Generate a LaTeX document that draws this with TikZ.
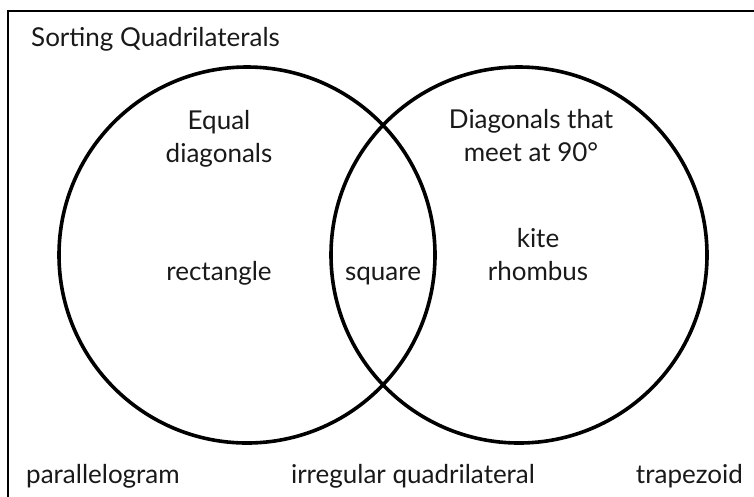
\documentclass[tikz,border=0pt]{standalone}
\usepackage{fontspec}
\setmainfont{Lato}
\usetikzlibrary{positioning}

\begin{document}
\begin{tikzpicture}[
    x=1pt, y=-1pt,
    frame/.style={draw=black, line width=1.6pt},
    setring/.style={
      draw=black, line width=3.6pt, circle,
      minimum size=376pt, inner sep=0pt,
    },
    word/.style={
      font=\fontsize{26}{33}\selectfont, align=center,
      inner sep=0pt, text=black!90,
    },
]
\useasboundingbox (0,0) rectangle (754,496);
\draw[frame] (8,11) rectangle (780,530);

% the two sets
\node[setring] (Leq) at (247,255) {};
\node[setring] (Rperp) at (519,255) {};

\node[word, anchor=base west] (title) at (31,46) {Sorting Quadrilaterals};

% base of a two-line node is the last line
\node[word, anchor=base] (Lhead) at (219,162) {Equal\\diagonals};
\node[word, anchor=base] (Rhead) at (531,161) {Diagonals that\\meet at 90°};

\node[word, anchor=base] (rect) at (219,280) {rectangle};
\node[word, anchor=base] (sq) at (383,280) {square};
\node[word, anchor=base] (kr) at (538,280) {kite\\rhombus};

% outside both sets
\node[word, anchor=base west] (para) at (26,483) {parallelogram};
\node[word, anchor=base] (irr) at (413,483) {irregular quadrilateral};
\node[word, anchor=base east] (trap) at (743,483) {trapezoid};
\end{tikzpicture}
\end{document}
